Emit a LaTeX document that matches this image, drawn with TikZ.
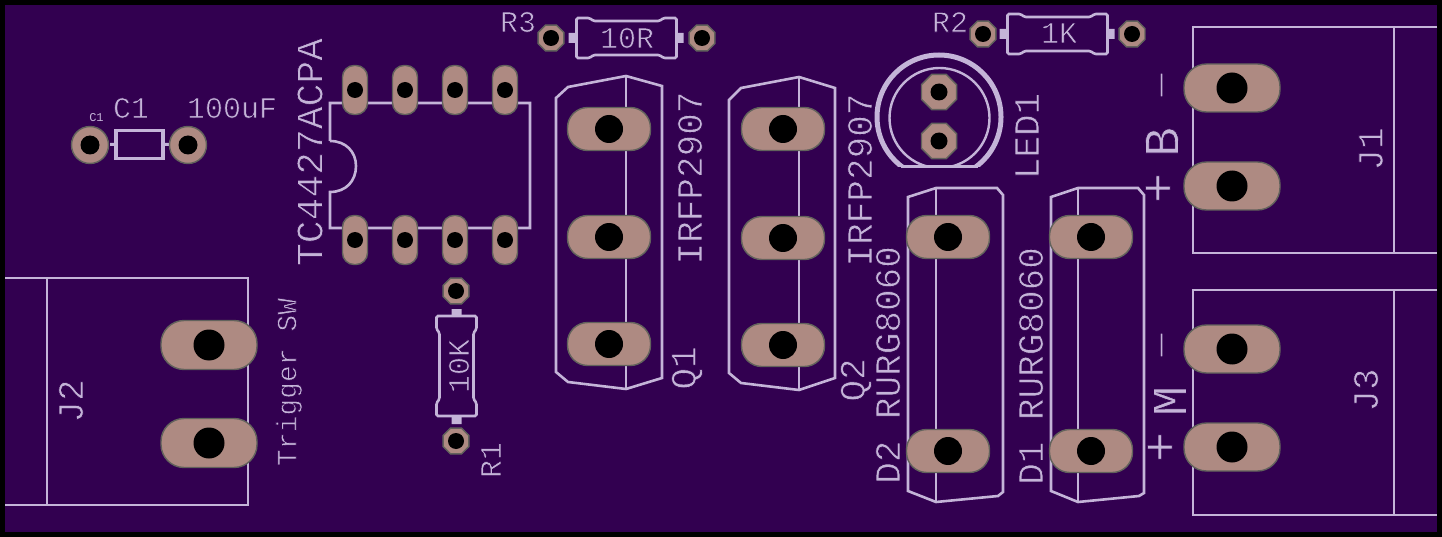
\documentclass[tikz,border=0pt]{standalone}
\usepackage{fontspec}
\setmonofont{Liberation Mono}
\usetikzlibrary{shapes.geometric}
\definecolor{board}{RGB}{50,0,80}
\definecolor{silk}{RGB}{196,180,216}
\definecolor{copper}{RGB}{174,138,130}
\definecolor{rim}{RGB}{98,98,92}
% glyphs are thinned by a stroke in the board colour
\newcommand{\thinset}{\special{pdf:code 2 Tr 0.6 w 0.196 0 0.314 RG}}
\newcommand{\zs}{\leavevmode\rlap{\hspace{0.1em}\raisebox{0.07em}{\rotatebox{55}{\rule{0.62em}{0.05em}}}}\thinset 0}
\newcommand{\fs}[1]{\thinset\fontsize{#1}{#1}\selectfont\ttfamily}
\newcommand{\fsplain}[1]{\fontsize{#1}{#1}\selectfont\ttfamily}
\newcommand{\holeat}[2]{\fill[black] (#1) circle (#2);}
% horizontal oblong pad: name, position, width, height, hole radius
\newcommand{\oblong}[5]{\node[padshape,minimum width=#3pt,minimum height=#4pt,rounded corners=#4*0.47pt] (#1) at (#2) {};\holeat{#1}{#5pt}}
\newcommand{\octpad}[4]{\node[padshape,regular polygon,regular polygon sides=8,minimum size=#3pt] (#1) at (#2) {};\holeat{#1}{#4pt}}
% resistor body: centre, rotation
\newcommand{\resbody}[2]{\begin{scope}[shift={(#1)},rotate=#2]
\draw[silkline,rounded corners=1.5pt] (-50,-20) -- (-37,-20) -- (-33,-17) -- (33,-17) -- (37,-20) -- (50,-20) -- (50,20) -- (37,20) -- (33,17) -- (-33,17) -- (-37,20) -- (-50,20) -- cycle;
\fill[silk] (-58,-5) rectangle (-50,5) (50,-5) rectangle (57,5);
\end{scope}}
\tikzset{
  silkline/.style={draw=silk,line width=2.6pt,line join=miter},
  padshape/.style={shape=rectangle,fill=copper,draw=rim,line width=1.4pt,inner sep=0pt,outer sep=0pt},
  lbl/.style={text=silk,inner sep=0pt,outer sep=0pt},
}
\begin{document}
\begin{tikzpicture}[x=1pt,y=-1pt]
\useasboundingbox (0,0) rectangle (1442,537);
\fill[black] (0,0) rectangle (1442,537);
\fill[board] (5,5) rectangle (1437,532);
% --- C1
\draw[silk,line width=3.2pt] (116,130.5) rectangle (163,158.5);
\fill[silk] (110,143) rectangle (116,146) (163,143) rectangle (169,146);
% --- IC
\draw[silkline] (330,141) -- (330,103) -- (530,103) -- (530,228) -- (330,228) -- (330,192) .. controls (346,192) and (356,181) .. (356,166) .. controls (356,152) and (346,141) .. (330,141);
% --- resistors
\resbody{626.5,38}{0}
\resbody{1057.5,34}{0}
\resbody{456.5,366}{90}
% --- Q1, Q2
\draw[silkline] (556,98) -- (568,87) -- (626,76) -- (662,86) -- (662,378) -- (626,389) -- (568,382) -- (556,372) -- cycle;
\draw[silkline] (626,76) -- (626,389);
\draw[silkline] (729,100) -- (741,88) -- (799,77) -- (835,88) -- (835,378) -- (799,390) -- (741,383) -- (729,373) -- cycle;
\draw[silkline] (799,77) -- (799,390);
% --- D2, D1
\draw[silkline] (908,197) -- (936,188) -- (997,188) -- (1003,195) -- (1003,492) -- (998,496) -- (936,502) -- (908,491) -- cycle;
\draw[silkline] (936,188) -- (936,502);
\draw[silkline] (1051,197) -- (1078,188) -- (1138,188) -- (1144,195) -- (1144,493) -- (1139,496) -- (1078,502) -- (1051,491) -- cycle;
\draw[silkline] (1078,188) -- (1078,502);
% --- LED
\begin{scope}
\clip (860,40) rectangle (1020,167);
\draw[silk,line width=5pt] (939,117) circle (62);
\draw[silk,line width=2.4pt] (939.5,118) circle (50);
\end{scope}
\draw[silk,line width=3pt] (901,167) -- (978,167);
% --- J boxes
\draw[silkline] (1437,27) -- (1193,27) -- (1193,253) -- (1437,253) (1394,27) -- (1394,253);
\draw[silkline] (1437,290) -- (1193,290) -- (1193,515) -- (1437,515) (1394,290) -- (1394,515);
\draw[silkline] (5,278) -- (248,278) -- (248,505) -- (5,505) (47,278) -- (47,505);
% --- pads
\node[padshape,circle,minimum size=37pt] (pc1a) at (90,145) {};\holeat{pc1a}{9.5pt}
\node[padshape,circle,minimum size=37pt] (pc1b) at (188,145) {};\holeat{pc1b}{9.5pt}
\foreach \x [count=\i] in {355,405,455,505}{
  \node[padshape,minimum width=25pt,minimum height=49pt,rounded corners=11.5pt] (ict\i) at (\x,90) {};\holeat{ict\i}{8pt}
  \node[padshape,minimum width=25pt,minimum height=49pt,rounded corners=11.5pt] (icb\i) at (\x,240) {};\holeat{icb\i}{8pt}
}
\octpad{r3a}{551,38}{28}{8}
\octpad{r3b}{702,38}{28}{8}
\octpad{r2a}{983,34}{28}{8}
\octpad{r2b}{1132,34}{28}{8}
\octpad{r1a}{456,291}{28}{8}
\octpad{r1b}{456,441}{28}{8}
\octpad{leda}{939,92}{38}{8.5}
\octpad{ledb}{939,141}{38}{8.5}
\oblong{qa1}{609,129}{83}{43}{14}
\oblong{qa2}{609,237}{83}{43}{14}
\oblong{qa3}{609,344}{83}{43}{14}
\oblong{qb1}{783,129}{83}{43}{14}
\oblong{qb2}{783,238}{83}{43}{14}
\oblong{qb3}{783,345}{83}{43}{14}
\oblong{da1}{948,237}{83}{43}{14}
\oblong{da2}{948,451}{83}{43}{14}
\oblong{db1}{1091,237}{83}{43}{14}
\oblong{db2}{1091,451}{83}{43}{14}
\oblong{ja1}{1232,88}{96}{48}{15.5}
\oblong{ja2}{1232,186}{96}{48}{15.5}
\oblong{jb1}{1232,349}{96}{48}{15.5}
\oblong{jb2}{1232,447}{96}{48}{15.5}
\oblong{jc1}{209,345}{96}{49}{15.5}
\oblong{jc2}{209,443}{96}{49}{15.5}
% --- labels
\node[lbl] (tc1s) at (96.5,117.5) {\fsplain{12}C1};
\node[lbl] (tc1) at (131,108) {\fs{30}C1};
\node[lbl] (tcv) at (232,108) {\fs{30}1\zs{}\zs{}uF};
\node[lbl,rotate=90] (tic) at (310,152) {\fs{38}TC4427ACPA};
\node[lbl] (tr3) at (518,22) {\fs{30}R3};
\node[lbl] (tr3v) at (627,38) {\fs{30}1\zs{}R};
\node[lbl] (tr2) at (950,22) {\fs{30}R2};
\node[lbl] (tr2v) at (1059,33) {\fs{30}1K};
\node[lbl,rotate=90] (tr1v) at (459,366) {\fs{30}1\zs{}K};
\node[lbl,rotate=90] (tr1) at (491,460) {\fs{30}R1};
\node[lbl,rotate=90] (tq1v) at (690,178) {\fs{36}IRFP29\zs{}7};
\node[lbl,rotate=90] (tq1) at (687,368) {\fs{36}Q1};
\node[lbl,rotate=90] (tq2v) at (860,180) {\fs{36}IRFP29\zs{}7};
\node[lbl,rotate=90] (tq2) at (856,380) {\fs{36}Q2};
\node[lbl,rotate=90] (td2) at (888,365) {\fs{36}D2 RURG8\zs{}6\zs{}};
\node[lbl,rotate=90] (td1) at (1031,366) {\fs{36}D1 RURG8\zs{}6\zs{}};
\node[lbl,rotate=90] (tled) at (1027,136) {\fs{36}LED1};
\node[lbl,rotate=90] (tj1) at (1371,149) {\fs{36}J1};
\node[lbl,rotate=90] (tj3) at (1366,390) {\fs{36}J3};
\node[lbl,rotate=90] (tj2) at (71,401) {\fs{36}J2};
\node[lbl,rotate=90] (tsw) at (289,382) {\fs{28}Trigger SW};
\node[lbl,rotate=90] (tbp) at (1160,188) {\fs{50}+};
\node[lbl,rotate=90] (tb) at (1162,142) {\fs{50}B};
\node[lbl,rotate=90,xscale=3] (tbm) at (1165,85) {\fs{30}-};
\node[lbl,rotate=90] (tmp) at (1162,447) {\fs{50}+};
\node[lbl,rotate=90] (tm) at (1170,401) {\fs{50}M};
\node[lbl,rotate=90,xscale=3] (tmm) at (1165,345) {\fs{30}-};
\end{tikzpicture}
\end{document}
